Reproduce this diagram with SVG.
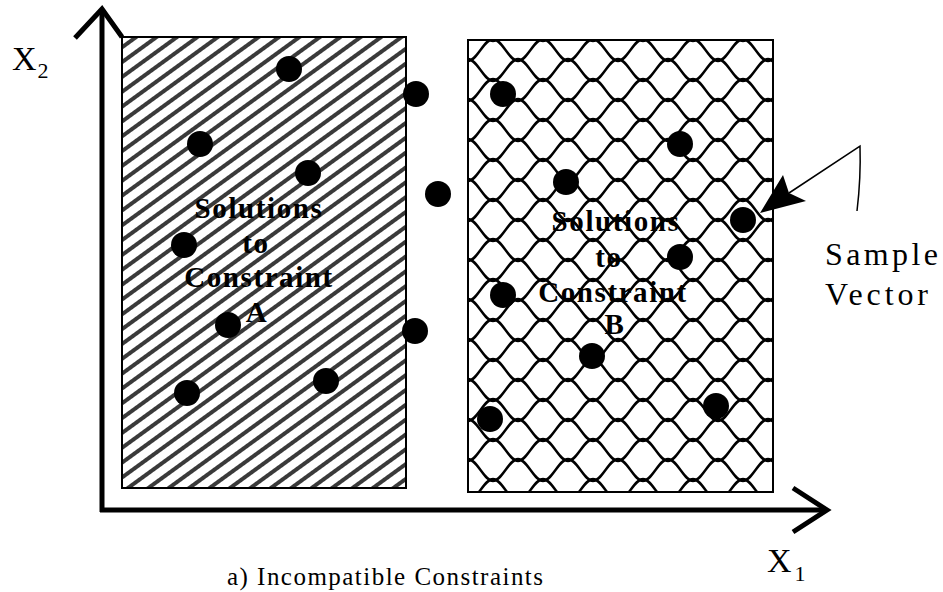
<svg xmlns="http://www.w3.org/2000/svg" width="943" height="592" viewBox="0 0 943 592">
  <style>
    .lbl { font-family: "Liberation Serif", "DejaVu Serif", serif; font-weight: bold; font-size: 29px; letter-spacing: 1.6px; fill: #000; text-anchor: middle; }
    .txt { font-family: "Liberation Serif", "DejaVu Serif", serif; fill: #000; }
    .dot { fill: #000; }
    .axis { fill: none; stroke: #000; stroke-width: 5; }
    .head { fill: none; stroke: #000; stroke-width: 5; stroke-linejoin: miter; }
    .region { stroke: #000; stroke-width: 2; }
    .wave { fill: none; stroke: #000; stroke-width: 2.4; }
  </style>
  <defs>
    <pattern id="hatchA" patternUnits="userSpaceOnUse" width="12" height="12" patternTransform="rotate(-36)">
      <rect width="12" height="12" fill="#fff"/>
      <rect y="0" width="12" height="4" fill="#3a3a3a"/>
    </pattern>
    <pattern id="meshB" patternUnits="userSpaceOnUse" width="50" height="40" x="468" y="40">
      <rect width="50" height="40" fill="#fff"/>
      <path class="wave" d="M-50,-21 C-41,-21 -34,1 -25,1 S-9,-21 0,-21 S16,1 25,1 S41,-21 50,-21 S66,1 75,1 S91,-21 100,-21"/>
      <path class="wave" d="M-50,21 C-41,21 -34,-1 -25,-1 S-9,21 0,21 S16,-1 25,-1 S41,21 50,21 S66,-1 75,-1 S91,21 100,21"/>
      <path class="wave" d="M-50,19 C-41,19 -34,41 -25,41 S-9,19 0,19 S16,41 25,41 S41,19 50,19 S66,41 75,41 S91,19 100,19"/>
      <path class="wave" d="M-50,61 C-41,61 -34,39 -25,39 S-9,61 0,61 S16,39 25,39 S41,61 50,61 S66,39 75,39 S91,61 100,61"/>
    </pattern>
  </defs>
  <rect width="943" height="592" fill="#fff"/>

  <g id="regionA">
    <rect class="region" x="122" y="37" width="284" height="451" fill="url(#hatchA)"/>
    <text class="lbl" x="259" y="218">Solutions</text>
    <text class="lbl" x="256" y="253">to</text>
    <text class="lbl" x="259" y="287">Constraint</text>
    <text class="lbl" x="257" y="322">A</text>
  </g>

  <g id="regionB">
    <rect class="region" x="468" y="40" width="305" height="452" fill="url(#meshB)"/>
    <text class="lbl" x="616" y="231">Solutions</text>
    <text class="lbl" x="609" y="267">to</text>
    <text class="lbl" x="613" y="302">Constraint</text>
    <text class="lbl" x="615" y="334">B</text>
  </g>

  <g id="dots">
    <circle class="dot" cx="289" cy="69" r="13"/>
    <circle class="dot" cx="200" cy="144" r="13"/>
    <circle class="dot" cx="308" cy="173" r="13"/>
    <circle class="dot" cx="184" cy="245" r="13"/>
    <circle class="dot" cx="228" cy="325" r="13"/>
    <circle class="dot" cx="326" cy="381" r="13"/>
    <circle class="dot" cx="187" cy="393" r="13"/>
    <circle class="dot" cx="416" cy="94" r="13"/>
    <circle class="dot" cx="438" cy="194" r="13"/>
    <circle class="dot" cx="415" cy="331" r="13"/>
    <circle class="dot" cx="503" cy="94" r="13"/>
    <circle class="dot" cx="566" cy="182" r="13"/>
    <circle class="dot" cx="680" cy="144" r="13"/>
    <circle class="dot" cx="743" cy="220" r="13"/>
    <circle class="dot" cx="680" cy="257" r="13"/>
    <circle class="dot" cx="503" cy="295" r="13"/>
    <circle class="dot" cx="592" cy="356" r="13"/>
    <circle class="dot" cx="490" cy="419" r="13"/>
    <circle class="dot" cx="716" cy="406" r="13"/>
  </g>

  <g id="axes">
    <line class="axis" x1="102" y1="512" x2="102" y2="12"/>
    <polyline class="head" points="75,38 102,9 122,37"/>
    <line class="axis" x1="100" y1="510" x2="826" y2="510"/>
    <polyline class="head" points="793,488 827,510 793,532"/>
  </g>

  <g id="connectors">
    <path d="M789,193 L860,146 Q861,178 857,211" fill="none" stroke="#000" stroke-width="1.5"/>
    <polygon points="760,213 783,175 789,193 806,201" fill="#000"/>
  </g>

  <g id="labels">
    <text class="txt" x="12" y="70" font-size="34">X<tspan font-size="22" dy="8" dx="1">2</tspan></text>
    <text class="txt" x="767" y="572" font-size="34">X<tspan font-size="22" dy="9" dx="3">1</tspan></text>
    <text class="txt" x="825" y="265" font-size="32" textLength="113" lengthAdjust="spacing">Sample</text>
    <text class="txt" x="825" y="305" font-size="32" textLength="103" lengthAdjust="spacing">Vector</text>
    <text class="txt" x="227" y="585" font-size="25" textLength="316" lengthAdjust="spacing">a) Incompatible Constraints</text>
  </g>
</svg>
